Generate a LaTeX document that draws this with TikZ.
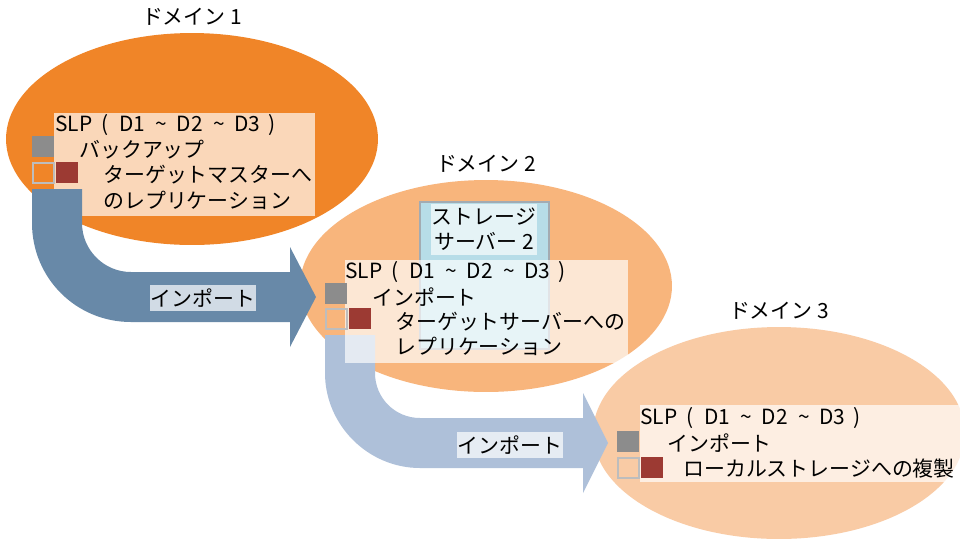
\documentclass[tikz,border=0pt]{standalone}
\usepackage{fontspec}
\setmainfont{Noto Sans CJK JP}
\usepackage{xcolor}
\usepackage{tikz}
\usetikzlibrary{shapes.geometric, positioning}

\definecolor{domA}{HTML}{F08528}
\definecolor{domB}{HTML}{F8B57C}
\definecolor{domC}{HTML}{F9CBA5}
\definecolor{impA}{HTML}{6889A8}
\definecolor{impB}{HTML}{AEC0D9}
\definecolor{markgray}{HTML}{8C8C8C}
\definecolor{markred}{HTML}{9C3A33}
\definecolor{markline}{HTML}{BDBDBD}
\definecolor{storfill}{HTML}{B7DDE8}
\definecolor{storline}{HTML}{A3ABB2}

\newcommand{\slpline}{SLP\hspace{0.45em}(\hspace{0.5em}D1\hspace{0.5em}\textasciitilde\hspace{0.45em}D2\hspace{0.5em}\textasciitilde\hspace{0.45em}D3\hspace{0.4em})}

\begin{document}
\begin{tikzpicture}[
    x=0.02cm, y=-0.02cm,
    every node/.style={inner sep=0pt},
    domarea/.style={ellipse, minimum width=7.44cm, minimum height=4.24cm},
    domlabel/.style={font=\fontsize{11.9}{14.2}\selectfont},
    slpbox/.style={rectangle, fill=white, fill opacity=0.68, anchor=north west},
    slptext/.style={anchor=west, font=\fontsize{11.9}{14.2}\selectfont},
    graymark/.style={rectangle, fill=markgray, minimum width=0.44cm,
                     minimum height=0.42cm, anchor=north west},
    copymark/.style={rectangle, draw=markline, line width=0.9pt, minimum width=0.42cm,
                     minimum height=0.4cm, anchor=north west},
    redmark/.style={rectangle, fill=markred, minimum width=0.44cm,
                    minimum height=0.42cm, anchor=north west},
    importlabel/.style={rectangle, fill=white, fill opacity=0.7, text opacity=1,
                        minimum width=2.14cm, minimum height=0.52cm,
                        font=\fontsize{11.9}{14.2}\selectfont},
]
\useasboundingbox[fill=white] (0,0) rectangle (960,542);
\clip (0,0) rectangle (960,542);

% Three domains
\node[domarea, fill=domA] (dom1) at (192,139) {};
\node[domlabel, above=0.13cm of dom1] (dom1lbl) {ドメイン 1};
\node[domarea, fill=domB] (dom2) at (486,286) {};
\node[domlabel, above=0.13cm of dom2] (dom2lbl) {ドメイン 2};
\node[domarea, fill=domC] (dom3) at (779,433) {};
\node[domlabel, above=0.13cm of dom3] (dom3lbl) {ドメイン 3};

% Domain 1: SLP
\node[slpbox, minimum width=5.22cm, minimum height=2.06cm] (d1box) at (54,113) {};
\node[slptext] (d1slp) at (55,125) {\slpline};
\node[slptext] (d1bk)  at (79,150) {バックアップ};
\node[slptext] (d1tm)  at (103,175) {ターゲットマスターへ};
\node[slptext] (d1rp)  at (103,200) {のレプリケーション};
\node[graymark] (d1g) at (32,136) {};
\node[copymark] (d1c) at (32,162) {};
\node[redmark]  (d1r) at (56,162) {};

% Import arrow 1 -> 2
\fill[impA] (32,189) -- (82,189) -- (82,223)
    .. controls (82,250) and (104,272) .. (131,272) -- (290,272) -- (290,247)
    -- (316,297) -- (290,347) -- (290,322) -- (131,322)
    .. controls (76,322) and (32,278) .. (32,223) -- cycle;
\node[importlabel] (imp1) at (203,298) {インポート};

% Domain 2: storage server and SLP
\node[rectangle, draw=storline, line width=0.9pt, fill=storfill,
      minimum width=2.58cm, minimum height=2.94cm] (stor) at (484.5,275.5) {};
\node[rectangle, fill=white, fill opacity=0.65, text opacity=1, align=center,
      minimum width=2.12cm, minimum height=1.02cm,
      font=\fontsize{11.9}{14.4}\selectfont] (storlbl) at (484,229) {ストレージ\\サーバー 2};

\fill[impB] (325,335) -- (375,335) -- (375,373)
    .. controls (375,398) and (395,418) .. (420,418) -- (583,418) -- (583,393)
    -- (608,443) -- (583,493) -- (583,468) -- (420,468)
    .. controls (368,468) and (325,425) .. (325,373) -- cycle;

\node[slpbox, minimum width=5.66cm, minimum height=2.06cm] (d2box) at (345,260) {};
\node[slptext] (d2slp) at (345,272) {\slpline};
\node[slptext] (d2im)  at (372,297) {インポート};
\node[slptext] (d2ts)  at (395,322) {ターゲットサーバーへの};
\node[slptext] (d2rp)  at (395,346) {レプリケーション};
\node[graymark] (d2g) at (325,283) {};
\node[copymark] (d2c) at (325,308) {};
\node[redmark]  (d2r) at (349,308) {};
\node[importlabel] (imp2) at (510,445) {インポート};

% Domain 3: SLP
\node[slpbox, minimum width=6.4cm, minimum height=1.54cm] (d3box) at (640,405) {};
\node[slptext] (d3slp) at (640,418) {\slpline};
\node[slptext] (d3im)  at (667,443) {インポート};
\node[slptext] (d3lc)  at (683,469) {ローカルストレージへの複製};
\node[graymark] (d3g) at (617,431) {};
\node[copymark] (d3c) at (617,457) {};
\node[redmark]  (d3r) at (641,457) {};

\end{tikzpicture}
\end{document}
